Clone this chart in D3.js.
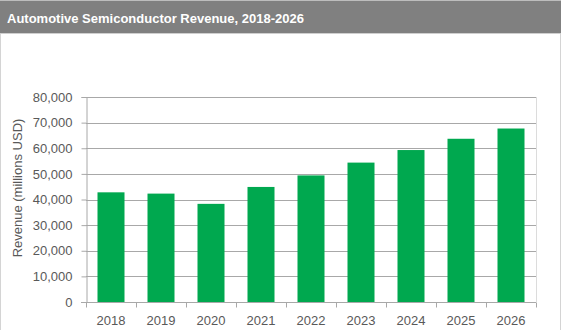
<!DOCTYPE html>
<html>
<head>
<meta charset="utf-8">
<script src="https://cdn.jsdelivr.net/npm/d3@7"></script>
<style>
  html, body { margin: 0; padding: 0; background: #fff; }
  svg { display: block; font-family: "Liberation Sans", Arial, sans-serif; }
</style>
</head>
<body>
<svg id="chart"></svg>
<script>
const years = ["2018", "2019", "2020", "2021", "2022", "2023", "2024", "2025", "2026"];
const revenue = [42800, 42300, 38300, 44900, 49400, 54400, 59300, 63700, 67700]; // millions USD
const yTicks = [0, 10000, 20000, 30000, 40000, 50000, 60000, 70000, 80000];
const title = "Automotive Semiconductor Revenue, 2018-2026";
const yTitle = "Revenue (millions USD)";

const width = 563;
const height = 330;
const margin = {top: 97, right: 27, bottom: 28, left: 86};

const svg = d3.select("#chart").attr("width", width).attr("height", height);

// panel frame and header
svg.append("rect").attr("x", 0).attr("y", 0).attr("width", width).attr("height", height).attr("fill", "#fff");
svg.append("rect").attr("x", 0.5).attr("y", 0.5).attr("width", 560).attr("height", 340)
    .attr("fill", "none").attr("stroke", "#d4d4d4");
svg.append("rect").attr("x", 0).attr("y", 0).attr("width", 561).attr("height", 33).attr("fill", "#808080");
svg.append("line").attr("x1", 0).attr("x2", 561).attr("y1", 33.5).attr("y2", 33.5).attr("stroke", "#cfcfcf");
svg.append("line").attr("x1", 0).attr("x2", 561).attr("y1", 0.5).attr("y2", 0.5).attr("stroke", "#bdbdbd");
svg.append("text").attr("x", 7).attr("y", 22.5)
    .attr("fill", "#fff").attr("font-weight", "bold").attr("font-size", 13)
    .text(title);

const x = d3.scaleBand(years, [margin.left, width - margin.right]).paddingInner(0.46).paddingOuter(0.23);
const y = d3.scaleLinear([0, 80000], [height - margin.bottom, margin.top]);

// gridlines
svg.append("g")
    .selectAll("line")
    .data(yTicks.filter(d => d > 0))
    .join("line")
    .attr("x1", margin.left).attr("x2", width - margin.right)
    .attr("y1", d => Math.round(y(d)) + 0.5).attr("y2", d => Math.round(y(d)) + 0.5)
    .attr("stroke", "#a8a8a8");

// right edge of plot area
svg.append("line")
    .attr("x1", width - margin.right + 0.5).attr("x2", width - margin.right + 0.5)
    .attr("y1", y(80000)).attr("y2", y(0))
    .attr("stroke", "#dcdcdc");

svg.append("g")
    .attr("fill", "#00a84f")
    .selectAll("rect")
    .data(years)
    .join("rect")
    .attr("x", d => x(d))
    .attr("width", x.bandwidth())
    .attr("y", (d, i) => y(revenue[i]))
    .attr("height", (d, i) => y(0) - y(revenue[i]));

// y axis
const yAxis = svg.append("g")
    .attr("transform", `translate(${margin.left + 0.5},0)`)
    .call(d3.axisLeft(y).tickValues(yTicks).tickFormat(d3.format(",")).tickSize(5).tickPadding(9))
    .call(g => g.selectAll("text").attr("fill", "#595959").attr("font-size", 13).attr("font-family", null));
yAxis.selectAll("line, path").attr("stroke", "#a8a8a8");

// x axis with ticks between categories
const step = x.step();
const xAxis = svg.append("g")
    .attr("transform", `translate(0,${Math.round(y(0)) + 0.5})`);
xAxis.append("line")
    .attr("x1", margin.left - 5).attr("x2", width - margin.right)
    .attr("stroke", "#a8a8a8");
xAxis.selectAll(".sep")
    .data(d3.range(years.length + 1))
    .join("line")
    .attr("class", "sep")
    .attr("x1", i => Math.round(margin.left + i * step) + 0.5)
    .attr("x2", i => Math.round(margin.left + i * step) + 0.5)
    .attr("y1", 0).attr("y2", 5)
    .attr("stroke", "#a8a8a8");
xAxis.selectAll("text")
    .data(years)
    .join("text")
    .attr("x", d => x(d) + x.bandwidth() / 2)
    .attr("y", 22)
    .attr("text-anchor", "middle")
    .attr("fill", "#595959")
    .attr("font-size", 13)
    .text(d => d);

svg.append("text")
    .attr("transform", `translate(22,188) rotate(-90)`)
    .attr("text-anchor", "middle")
    .attr("fill", "#595959")
    .attr("font-size", 13)
    .text(yTitle);
</script>
</body>
</html>
